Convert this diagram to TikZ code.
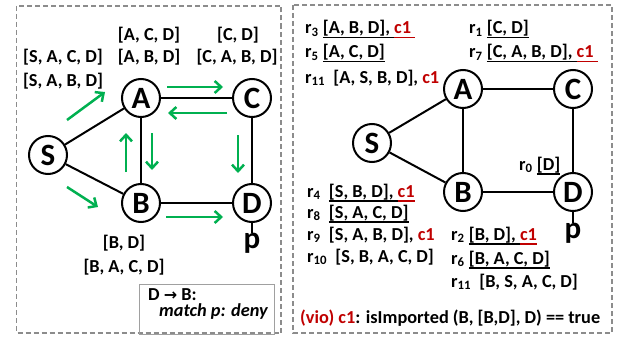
\documentclass[tikz,border=0pt]{standalone}
\usepackage{fontspec}
\setmainfont{Carlito}
\newfontfamily\dejavu{DejaVu Sans}
\usetikzlibrary{arrows.meta}
\definecolor{grn}{HTML}{00B050}
\definecolor{dred}{HTML}{C00000}
\definecolor{framegray}{HTML}{8C8C8C}
\definecolor{boxgray}{HTML}{A0A0A0}
\newsavebox{\ulbox}
\newcommand{\myul}[1]{\sbox{\ulbox}{#1}\rlap{\rule[-4.5pt]{\wd\ulbox}{1.5pt}}\usebox{\ulbox}}
\begin{document}
\begin{tikzpicture}[x=1pt,y=-1pt,
  vtx/.style={circle,draw,line width=2pt,minimum size=38pt,inner sep=0pt,font=\fontsize{31}{31}\selectfont\bfseries},
  big/.style={inner sep=0pt,font=\fontsize{31}{31}\selectfont\bfseries},
  edge/.style={line width=2pt},
  flow/.style={grn,line width=2.5pt,-{Straight Barb[length=6.5pt,width=12pt]}},
  lbl/.style={font=\fontsize{18.3}{20}\selectfont\bfseries,inner sep=0pt},
  panel/.style={draw=framegray,dash pattern=on 5pt off 3pt,line width=1.2pt}]
\useasboundingbox (0,0) rectangle (623,337);
% panels
\draw[panel] (16.5,6) rectangle (281,333);
\draw[panel] (293,5) rectangle (612,333);

% ---------- left graph ----------
\node[vtx] (lS) at (48,155) {S};
\node[vtx] (lA) at (141,98) {A};
\node[vtx] (lC) at (252,98) {C};
\node[vtx] (lB) at (141,203) {B};
\node[vtx] (lD) at (252,203) {D};
\node[big] (lp) at (252,243) {p};
\draw[edge] (lS) -- (lA);
\draw[edge] (lS) -- (lB);
\draw[edge] (lA) -- (lC);
\draw[edge] (lA) -- (lB);
\draw[edge] (lC) -- (lD);
\draw[edge] (lB) -- (lD);
\draw[edge] (lD) -- (lp);

% green flow arrows
\coordinate (f1a) at (67,120);  \coordinate (f1b) at (105,92);
\coordinate (f2a) at (167,87);  \coordinate (f2b) at (223,87);
\coordinate (f3a) at (227,113); \coordinate (f3b) at (168,113);
\coordinate (f4a) at (126,172); \coordinate (f4b) at (126,133);
\coordinate (f5a) at (152,133); \coordinate (f5b) at (152,170);
\coordinate (f6a) at (238,135); \coordinate (f6b) at (238,173);
\coordinate (f7a) at (67,187);  \coordinate (f7b) at (98,207);
\coordinate (f8a) at (166,217); \coordinate (f8b) at (223,217);
\foreach \i in {1,...,8} \draw[flow] (f\i a) -- (f\i b);

% left labels
\node[lbl,anchor=base] (t1) at (63,63) {[S, A, C, D]};
\node[lbl,anchor=base] (t2) at (63,86) {[S, A, B, D]};
\node[lbl,anchor=base] (t3) at (149,41) {[A, C, D]};
\node[lbl,anchor=base] (t4) at (149,63) {[A, B, D]};
\node[lbl,anchor=base] (t5) at (238,41) {[C, D]};
\node[lbl,anchor=base] (t6) at (237,63) {[C, A, B, D]};
\node[lbl,anchor=base] (t7) at (124,248) {[B, D]};
\node[lbl,anchor=base] (t8) at (124,272) {[B, A, C, D]};

% box
\node[draw=boxgray,line width=1.2pt,minimum width=135pt,minimum height=50pt,inner sep=0pt,anchor=north west] (box) at (139,284) {};
\node[lbl,anchor=base west] (bx1) at (148,300) {D {\dejavu\bfseries\fontsize{16}{18}\selectfont →} B:};
\node[lbl,anchor=base east,font=\fontsize{18.3}{20}\selectfont\bfseries\itshape] (bx2) at (268,316) {match p: deny};

% ---------- right graph ----------
\node[vtx] (rS) at (372,143) {S};
\node[vtx] (rA) at (463,89) {A};
\node[vtx] (rC) at (573,89) {C};
\node[vtx] (rB) at (463,192) {B};
\node[vtx] (rD) at (573,192) {D};
\node[big] (rp) at (573,233) {p};
\draw[edge] (rS) -- (rA);
\draw[edge] (rS) -- (rB);
\draw[edge] (rA) -- (rC);
\draw[edge] (rA) -- (rB);
\draw[edge] (rC) -- (rD);
\draw[edge] (rB) -- (rD);
\draw[edge] (rD) -- (rp);

% right labels
\node[lbl,anchor=base west] (r3) at (305,34) {r\textsubscript{3} \myul{[A, B, D],\ }\textcolor{dred}{\myul{c1\ }}};
\node[lbl,anchor=base west] (r5) at (305,58) {r\textsubscript{5} \myul{[A, C, D]}};
\node[lbl,anchor=base west] (r11a) at (305,83) {r\textsubscript{11}\ \ [A, S, B, D], \textcolor{dred}{c1}};
\node[lbl,anchor=base west] (r1) at (469,34) {r\textsubscript{1} \myul{[C, D]}};
\node[lbl,anchor=base west] (r7) at (469,58) {r\textsubscript{7} \myul{[C, A, B, D],\ }\textcolor{dred}{\myul{c1\ }}};
\node[lbl,anchor=base west] (r0) at (519,170) {r\textsubscript{0} \myul{[D]}};
\node[lbl,anchor=base west] (r4) at (307,197) {r\textsubscript{4}\ \ \myul{[S, B, D],\ }\textcolor{dred}{\myul{c1}}};
\node[lbl,anchor=base west] (r8) at (307,218) {r\textsubscript{8}\ \ \myul{[S, A, C, D]}};
\node[lbl,anchor=base west] (r9) at (307,240) {r\textsubscript{9}\ \ [S, A, B, D], \textcolor{dred}{c1}};
\node[lbl,anchor=base west] (r10) at (307,262) {r\textsubscript{10}\ \ [S, B, A, C, D]};
\node[lbl,anchor=base west] (r2) at (451,240) {r\textsubscript{2} \myul{[B, D],\ }\textcolor{dred}{\myul{c1}}};
\node[lbl,anchor=base west] (r6) at (451,264) {r\textsubscript{6} \myul{[B, A, C, D]}};
\node[lbl,anchor=base west] (r11b) at (451,287) {r\textsubscript{11}\ \ [B, S, A, C, D]};
\node[lbl,anchor=base west] (vio) at (300,323) {\textcolor{dred}{(vio) c1}: isImported (B, [B,D], D) == true};
\end{tikzpicture}
\end{document}
